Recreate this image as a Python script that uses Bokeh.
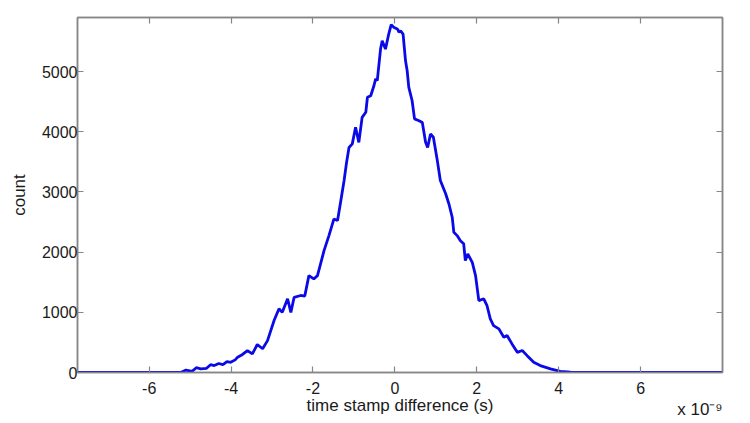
from bokeh.plotting import figure
from bokeh.models import Range1d, LinearAxis, FixedTicker, CustomJSTickFormatter
from bokeh.embed import file_html
from bokeh.resources import INLINE

# time stamp difference in units of 1e-9 s
time_diff = [-7.75, -5.23, -5.1, -4.95, -4.85, -4.74, -4.6, -4.5, -4.41, -4.3, -4.2, -4.1, -4.01, -3.9,
             -3.84, -3.72, -3.60, -3.48, -3.36, -3.23, -3.11, -2.95, -2.83, -2.75, -2.62, -2.54, -2.46,
             -2.30, -2.20, -2.10, -1.98, -1.89, -1.73, -1.61, -1.49, -1.40, -1.32, -1.24, -1.18, -1.12,
             -1.04, -0.96, -0.88, -0.80, -0.71, -0.67, -0.59, -0.51, -0.47, -0.43, -0.35, -0.31, -0.23,
             -0.15, -0.09, -0.02, 0.06, 0.10, 0.14, 0.20, 0.26, 0.30, 0.34, 0.42, 0.48, 0.59, 0.67, 0.75,
             0.80, 0.87, 0.94, 1.03, 1.11, 1.24, 1.32, 1.40, 1.44, 1.52, 1.60, 1.68, 1.72, 1.78, 1.89,
             1.97, 2.05, 2.17, 2.25, 2.33, 2.41, 2.54, 2.66, 2.74, 2.86, 2.99, 3.11, 3.23, 3.39, 3.55,
             3.80, 4.04, 4.29, 8.0]
counts = [0, 0, 40, 20, 80, 60, 70, 130, 115, 150, 130, 180, 170, 210,
          255, 300, 365, 310, 465, 395, 530, 865, 1060, 1000, 1225, 1000, 1250,
          1280, 1270, 1610, 1555, 1610, 2025, 2275, 2550, 2525, 2855, 3190, 3490, 3740,
          3800, 4075, 3825, 4240, 4325, 4575, 4600, 4770, 4880, 4850, 5375, 5515, 5375,
          5625, 5780, 5735, 5710, 5655, 5680, 5625, 5180, 5015, 4740, 4520, 4215, 4185, 4155, 3825,
          3740, 3965, 3910, 3550, 3190, 2970, 2800, 2580, 2330, 2275, 2190, 2140, 1860, 1970, 1830,
          1610, 1195, 1225, 1110, 890, 780, 725, 585, 615, 475, 335, 365, 280, 170, 115,
          60, 20, 5, 0]

x_ticks = [-6, -4, -2, 0, 2, 4, 6]
x_tick_labels = ["-6", "-4", "-2", "0", "2", "4", "6"]
y_ticks = [0, 1000, 2000, 3000, 4000, 5000]
x_label = "time stamp difference (s)"
y_label = "count"
multiplier = "x 10\u207b\u2079"

FONT = "Liberation Sans"
AXIS_COLOR = "#868686"
TEXT_COLOR = "#1a1a1a"

W, H = 742, 423
p = figure(width=W, height=H, output_backend="svg", toolbar_location=None,
           x_range=Range1d(-7.75, 8.0), y_range=Range1d(0, 5900),
           min_border_left=77, min_border_top=17, min_border_right=20, min_border_bottom=51,
           background_fill_color="white", border_fill_color="white")
p.grid.visible = False
p.outline_line_color = AXIS_COLOR
p.outline_line_width = 1.5

p.line(time_diff, counts, line_color="#0a0ae8", line_width=2.8)

def style(ax, ticks, show_labels):
    ax.ticker = FixedTicker(ticks=ticks)
    ax.axis_line_color = AXIS_COLOR
    ax.axis_line_width = 1.5
    ax.major_tick_line_color = AXIS_COLOR
    ax.major_tick_line_width = 1.2
    ax.major_tick_in = 6
    ax.major_tick_out = 0
    ax.minor_tick_line_color = None
    ax.major_label_text_font = FONT
    ax.major_label_text_color = TEXT_COLOR
    ax.major_label_text_font_size = "16px"
    if not show_labels:
        ax.formatter = CustomJSTickFormatter(code="return ''")
        ax.major_label_standoff = 0
    ax.axis_label_text_font = FONT
    ax.axis_label_text_font_style = "normal"
    ax.axis_label_text_color = TEXT_COLOR
    ax.axis_label_text_font_size = "17px"

style(p.xaxis[0], x_ticks, True)
style(p.yaxis[0], y_ticks, True)
p.xaxis[0].major_label_overrides = {t: s for t, s in zip(x_ticks, x_tick_labels)}
p.xaxis[0].axis_label = x_label
p.yaxis[0].axis_label = y_label
p.xaxis[0].major_label_standoff = 9
p.xaxis[0].axis_label_standoff = -1
p.yaxis[0].major_label_standoff = 0
p.yaxis[0].axis_label_standoff = 10

top = LinearAxis()
style(top, x_ticks, False)
p.add_layout(top, "above")
right = LinearAxis()
style(right, y_ticks, False)
p.add_layout(right, "right")

# second, tick-less bottom axis that only carries the "x 10^-9" multiplier at the right end
mult_axis = LinearAxis(ticker=FixedTicker(ticks=[]), axis_line_color=None,
                       major_tick_line_color=None, minor_tick_line_color=None,
                       axis_label_text_font=FONT, axis_label_text_font_style="normal",
                       axis_label_text_color=TEXT_COLOR, axis_label_text_font_size="17px",
                       axis_label_standoff=-18)
try:
    mult_axis.axis_label_align = "right"
    mult_axis.axis_label = multiplier
except Exception:
    mult_axis.axis_label = "\u00a0" * 127 + multiplier
p.add_layout(mult_axis, "below")

open("out.html", "w").write(file_html(p, INLINE))
